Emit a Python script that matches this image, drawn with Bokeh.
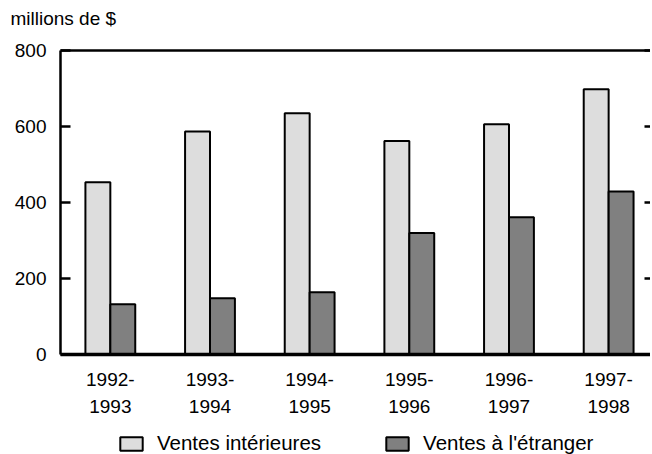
import numpy as np
from bokeh.plotting import figure
from bokeh.layouts import column
from bokeh.models import Range1d, LinearAxis, FixedTicker, Legend, LegendItem, ColumnDataSource
from bokeh.transform import dodge
from bokeh.embed import file_html
from bokeh.resources import INLINE

periodes = ["1992-1993", "1993-1994", "1994-1995", "1995-1996", "1996-1997", "1997-1998"]
ventes_interieures = [453, 587, 635, 562, 606, 698]
ventes_etranger = [132, 148, 164, 320, 361, 429]
y_ticks = [0, 200, 400, 600, 800]
unit_label = "millions de $"
series_names = ["Ventes intérieures", "Ventes à l'étranger"]

FONT = "Liberation Sans"
FS = "19px"
COL_INT = "#dddddd"
COL_ETR = "#808080"

xs = list(range(len(periodes)))
ligne1 = {i: s.split("-")[0] + "-" for i, s in enumerate(periodes)}
ligne2 = {i: s.split("-")[1] for i, s in enumerate(periodes)}
src = ColumnDataSource(dict(x=xs, interieures=ventes_interieures, etranger=ventes_etranger))

p = figure(frame_width=590, frame_height=304, output_backend="svg", toolbar_location=None,
           x_range=Range1d(-0.5, 5.42), y_range=Range1d(y_ticks[0], y_ticks[-1]),
           x_axis_location=None, y_axis_location=None,
           min_border_left=60, min_border_right=0, min_border_top=0, min_border_bottom=68,
           title=unit_label)
p.outline_line_color = None
p.xgrid.visible = False
p.ygrid.visible = False
p.title.align = "left"
p.title.offset = -50
p.title.standoff = 10
p.title.text_font = FONT
p.title.text_font_size = FS
p.title.text_font_style = "normal"
p.title.text_color = "black"

left = LinearAxis(ticker=FixedTicker(ticks=y_ticks), major_tick_in=10, major_tick_out=0,
                  minor_tick_in=0, minor_tick_out=0, axis_line_width=2.5, major_tick_line_width=2.5,
                  major_tick_line_color="black", axis_line_color="black",
                  major_label_text_font=FONT, major_label_text_font_size=FS,
                  major_label_text_color="black", major_label_standoff=14)
p.add_layout(left, "left")

right = LinearAxis(ticker=FixedTicker(ticks=y_ticks), major_tick_in=6, major_tick_out=0,
                   minor_tick_in=0, minor_tick_out=0, axis_line_color=None, major_tick_line_width=2.5,
                   major_tick_line_color="black",
                   major_label_overrides={t: "" for t in y_ticks}, major_label_standoff=0)
p.add_layout(right, "right")

top = LinearAxis(ticker=FixedTicker(ticks=[0]), major_tick_in=0, major_tick_out=0,
                 minor_tick_in=0, minor_tick_out=0, axis_line_width=2.5, axis_line_color="black",
                 major_label_overrides={0: " "}, major_label_text_font=FONT,
                 major_label_text_font_size="11px", major_label_standoff=2)
p.add_layout(top, "above")

bottom1 = LinearAxis(ticker=FixedTicker(ticks=xs), major_tick_in=0, major_tick_out=0,
                     minor_tick_in=0, minor_tick_out=0, axis_line_width=3.5, axis_line_color="black",
                     major_label_overrides=ligne1,
                     major_label_text_font=FONT, major_label_text_font_size=FS,
                     major_label_text_color="black", major_label_standoff=18)
p.add_layout(bottom1, "below")

bottom2 = LinearAxis(ticker=FixedTicker(ticks=xs), major_tick_in=0, major_tick_out=0,
                     minor_tick_in=0, minor_tick_out=0, axis_line_color=None,
                     major_label_overrides=ligne2,
                     major_label_text_font=FONT, major_label_text_font_size=FS,
                     major_label_text_color="black", major_label_standoff=11)
p.add_layout(bottom2, "below")

p.vbar(x=dodge("x", -0.125), top="interieures", width=0.25, source=src,
       fill_color=COL_INT, line_color="black", line_width=2)
p.vbar(x=dodge("x", 0.125), top="etranger", width=0.25, source=src,
       fill_color=COL_ETR, line_color="black", line_width=2)

# legend strip below the chart (placeholder glyphs hold only NaN, so nothing is drawn)
lf = figure(width=652, height=33, output_backend="svg", toolbar_location=None,
            x_range=Range1d(0, 1), y_range=Range1d(0, 1),
            x_axis_location=None, y_axis_location=None,
            min_border_left=0, min_border_right=0, min_border_top=0, min_border_bottom=0)
lf.outline_line_color = None
lf.xgrid.visible = False
lf.ygrid.visible = False
vide = ColumnDataSource(dict(x=np.array([np.nan]), top=np.array([np.nan])))
g1 = lf.vbar(x="x", top="top", width=0.1, source=vide,
             fill_color=COL_INT, line_color="black", line_width=2)
g2 = lf.vbar(x="x", top="top", width=0.1, source=vide,
             fill_color=COL_ETR, line_color="black", line_width=2)
legend = Legend(items=[LegendItem(label=series_names[0], renderers=[g1]),
                       LegendItem(label=series_names[1], renderers=[g2])],
                orientation="horizontal", location=(57, 0),
                glyph_width=28, glyph_height=17, label_text_font=FONT,
                label_text_font_size="20.5px", label_text_color="black",
                spacing=62, label_standoff=12, border_line_color=None,
                background_fill_alpha=0, padding=0, margin=0)
lf.add_layout(legend, "center")

layout = column(p, lf, spacing=0)
open("out.html", "w").write(file_html(layout, INLINE))
